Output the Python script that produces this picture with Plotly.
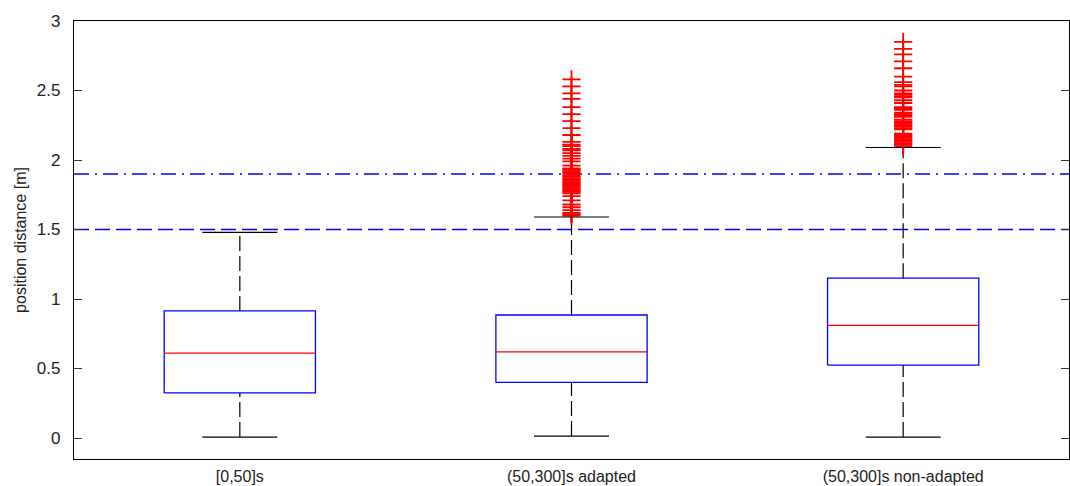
import plotly.graph_objects as go

categories = ["[0,50]s", "(50,300]s adapted", "(50,300]s non-adapted"]
positions = [1, 2, 3]
lower_whisker = [0.007, 0.014, 0.007]
q1 = [0.324, 0.40, 0.525]
median = [0.61, 0.62, 0.81]
q3 = [0.914, 0.885, 1.15]
upper_whisker = [1.48, 1.59, 2.09]

outliers_adapted = [2.58, 2.53, 2.48, 2.44, 2.38, 2.33, 2.28, 2.23, 2.18, 2.13,
                    2.11, 2.10, 2.08, 2.07, 2.05, 2.03, 2.01, 1.99, 1.96,
                    1.94, 1.93, 1.92, 1.91, 1.90, 1.89, 1.88, 1.87, 1.86, 1.85,
                    1.84, 1.83, 1.82, 1.81, 1.80, 1.79, 1.78, 1.77, 1.76,
                    1.74, 1.71, 1.68, 1.66, 1.64, 1.62, 1.61, 1.60]
outliers_nonadapted = [2.85, 2.80, 2.76, 2.71, 2.66, 2.60, 2.56, 2.54, 2.53, 2.50,
                       2.48, 2.47, 2.46, 2.45, 2.43, 2.41, 2.38, 2.37, 2.36,
                       2.34, 2.33, 2.32, 2.31, 2.29, 2.28, 2.27, 2.26, 2.25,
                       2.24, 2.23, 2.22, 2.19, 2.18, 2.17, 2.16, 2.15, 2.14,
                       2.13, 2.12, 2.11, 2.10]
outliers = [[], outliers_adapted, outliers_nonadapted]

threshold_dashed = 1.5
threshold_dashdot = 1.9

box_half = 0.228
cap_half = 0.113

fig = go.Figure()

# threshold lines
fig.add_trace(go.Scatter(x=[0.5, 3.5], y=[threshold_dashed] * 2, mode="lines",
                         line=dict(color="#0000ff", width=1.5, dash="15px,6px"),
                         hoverinfo="skip", showlegend=False))
fig.add_trace(go.Scatter(x=[0.5, 3.5], y=[threshold_dashdot] * 2, mode="lines",
                         line=dict(color="#0000ff", width=1.5, dash="15px,6px,2px,6px"),
                         hoverinfo="skip", showlegend=False))

wx, wy, cx, cy, bx, by, mx, my = [], [], [], [], [], [], [], []
for p, lw, a, m, b, uw in zip(positions, lower_whisker, q1, median, q3, upper_whisker):
    wx += [p, p, None, p, p, None]
    wy += [b, uw, None, lw, a, None]
    cx += [p - cap_half, p + cap_half, None, p - cap_half, p + cap_half, None]
    cy += [uw, uw, None, lw, lw, None]
    bx += [p - box_half, p + box_half, p + box_half, p - box_half, p - box_half, None]
    by += [a, a, b, b, a, None]
    mx += [p - box_half, p + box_half, None]
    my += [m, m, None]

fig.add_trace(go.Scatter(x=wx, y=wy, mode="lines",
                         line=dict(color="#000000", width=1.2, dash="15px,5px"),
                         hoverinfo="skip", showlegend=False))

ox, oy = [], []
for p, vals in zip(positions, outliers):
    ox += [p] * len(vals)
    oy += vals
fig.add_trace(go.Scatter(x=ox, y=oy, mode="markers",
                         marker=dict(symbol="cross-thin", size=13,
                                     line=dict(color="#ff0000", width=1.8)),
                         hoverinfo="skip", showlegend=False))

fig.add_trace(go.Scatter(x=cx, y=cy, mode="lines",
                         line=dict(color="#000000", width=1.2),
                         hoverinfo="skip", showlegend=False))
fig.add_trace(go.Scatter(x=bx, y=by, mode="lines",
                         line=dict(color="#0000ff", width=1.3),
                         hoverinfo="skip", showlegend=False))
fig.add_trace(go.Scatter(x=mx, y=my, mode="lines",
                         line=dict(color="#ff0000", width=1.3),
                         hoverinfo="skip", showlegend=False))

fig.update_layout(
    width=1070, height=486,
    margin=dict(l=74, r=1, t=21, b=27, autoexpand=False),
    paper_bgcolor="white", plot_bgcolor="white",
    font=dict(family="Liberation Sans, Arial, sans-serif", color="#222222", size=16),
    showlegend=False,
)
fig.update_xaxes(
    range=[0.5, 3.5], tickmode="array", tickvals=positions, ticktext=categories,
    ticks="", showgrid=False, zeroline=False, automargin=False,
    showline=True, linecolor="#000000", linewidth=1.2, mirror=True,
    tickfont=dict(size=16), ticklabelstandoff=3,
)
fig.update_yaxes(
    range=[-0.151, 3.0], tickmode="array", tickvals=[0, 0.5, 1, 1.5, 2, 2.5, 3],
    ticktext=["0", "0.5", "1", "1.5", "2", "2.5", "3"],
    ticks="inside", ticklen=8, tickcolor="#333333", tickwidth=1.2,
    showgrid=False, zeroline=False, automargin=False,
    showline=True, linecolor="#000000", linewidth=1.2, mirror="ticks",
    tickfont=dict(size=17), ticklabelstandoff=9,
    title=dict(text="position distance [m]", font=dict(size=16), standoff=6),
)

fig.write_html(
    "out.html",
    config={"displayModeBar": False},
    post_script="document.body.style.margin='0';document.body.style.overflow='hidden';",
)
